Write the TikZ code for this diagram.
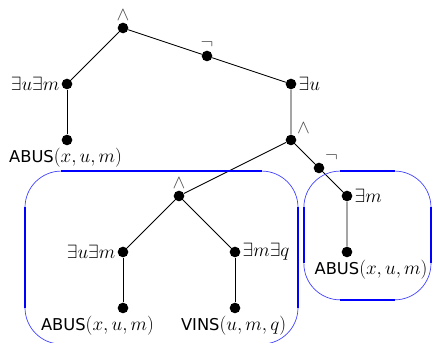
\RequirePackage{fix-cm}
\documentclass[tikz,border=0pt]{standalone}
\usepackage{amsmath,amssymb}
\usepackage{fontspec}
\newfontfamily\vera[Scale=0.85]{DejaVu Sans}
\usepackage{tikz}
\usetikzlibrary{positioning}

\begin{document}
\begin{tikzpicture}[dot/.style={circle,fill=black,inner sep=0pt,minimum size=0.38cm},
  every label/.style={font=\fontsize{19.5}{23}\selectfont,inner sep=2pt},
  op/.style={text=black!70},
  edge/.style={line width=0.9pt},
  boxcurve/.style={blue!75,line width=0.7pt,rounded corners=1.3cm},
  boxline/.style={blue,line width=1.6pt}]
\useasboundingbox (-0.393,-0.25) rectangle (15.036,12);
% outer formula
\node[dot,label={[op]above:$\wedge$}] (top) at (4,11) {};
\node[dot,label={[op]above:$\neg$}] (negA) at (7,10) {};
\node[dot,label=left:$\exists u\exists m$] (exUM) at (2,9) {};
\node[dot,label=right:$\exists u$] (exU) at (10,9) {};
\node[dot,label={[xshift=-0.05cm]below:{\vera ABUS}$(x,u,m)$}] (abusA) at (2,7) {};
\node[dot,label={[op]above right:$\wedge$}] (andB) at (10,7) {};
\node[dot,label={[op]above right:$\neg$}] (negB) at (11,6) {};
\node[dot,label=right:$\exists m$] (exM) at (12,5) {};
\node[dot,label={[xshift=0.86cm]below:{\vera ABUS}$(x,u,m)$}] (abusB) at (12,3) {};
% inner conjunction
\node[dot,label={[op]above:$\wedge$}] (andC) at (6,5) {};
\node[dot,label=left:$\exists u\exists m$] (exUMb) at (4,3) {};
\node[dot,label=right:$\exists m\exists q$] (exMQ) at (8,3) {};
\node[dot,label={[xshift=-0.91cm]below:{\vera ABUS}$(x,u,m)$}] (abusC) at (4,1) {};
\node[dot,label={[xshift=-0.05cm]below:{\vera VINS}$(u,m,q)$}] (vins) at (8,1) {};
\draw[edge] (exUM) -- (top) -- (negA) -- (exU) -- (andB) -- (andC);
\draw[edge] (exUM) -- (abusA);
\draw[edge] (andB) -- (negB) -- (exM) -- (abusB);
\draw[edge] (exUMb) -- (andC) -- (exMQ);
\draw[edge] (exUMb) -- (abusC);
\draw[edge] (exMQ) -- (vins);
% boxes
\draw[boxcurve] (0.5,-0.29) rectangle (10.25,5.89);
\draw[boxline] (1.8,5.89) -- (8.95,5.89);
\draw[boxline] (0.5,4.59) -- (0.5,1.01);
\draw[boxline] (10.25,4.59) -- (10.25,1.01);
\draw[boxcurve] (10.46,1.29) rectangle (15.0,5.89);
\draw[boxline] (11.76,5.89) -- (13.7,5.89);
\draw[boxline] (11.76,1.29) -- (13.7,1.29);
\draw[boxline] (10.46,4.59) -- (10.46,2.59);
\draw[boxline] (15.0,4.59) -- (15.0,2.59);
\end{tikzpicture}
\end{document}
